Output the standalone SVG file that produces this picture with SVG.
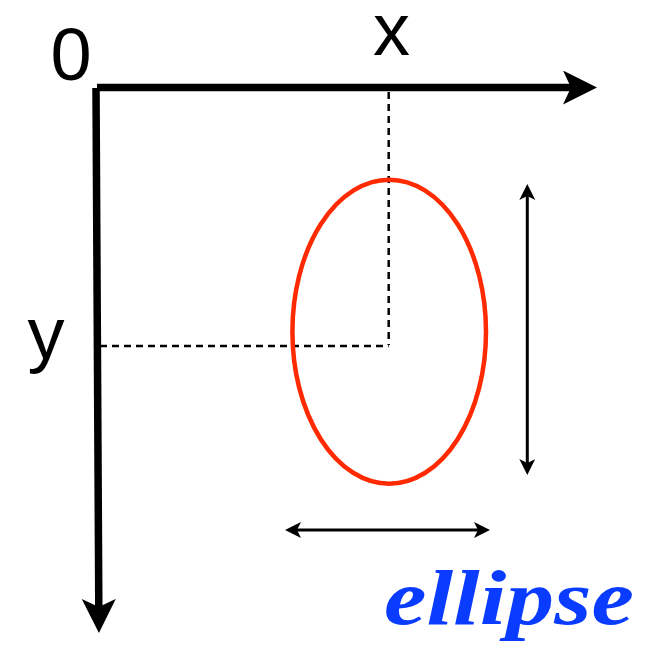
<svg xmlns="http://www.w3.org/2000/svg" width="660" height="648" viewBox="0 0 660 648">
  <style>
    .axis { stroke: #000; stroke-width: 7.5; fill: none; }
    .dash { stroke: #000; stroke-width: 2.5; stroke-dasharray: 7 5; fill: none; }
    .dim { stroke: #000; stroke-width: 3; fill: none; }
    .lbl { font-family: "Liberation Sans", Arial, sans-serif; font-size: 74px; fill: #000; text-anchor: middle; }
    .title { font-family: "Liberation Serif", "Times New Roman", serif; font-weight: bold; font-style: italic; font-size: 78px; fill: #0a3cff; }
  </style>
  <defs>
    <marker id="bigHead" markerUnits="userSpaceOnUse" markerWidth="36" markerHeight="36" refX="8" refY="17" orient="auto" viewBox="0 0 36 36">
      <path d="M0,0 L34,17 L0,34 L8,17 z" fill="#000"/>
    </marker>
    <marker id="smallHead" markerUnits="userSpaceOnUse" markerWidth="18" markerHeight="18" refX="4" refY="8" orient="auto-start-reverse" viewBox="0 0 18 18">
      <path d="M0,0 L16,8 L0,16 L4,8 z" fill="#000"/>
    </marker>
  </defs>

  <g id="connectors">
    <line id="x-axis" class="axis" x1="97" y1="87.5" x2="571" y2="87.5" marker-end="url(#bigHead)"/>
    <line id="y-axis" class="axis" x1="96" y1="88" x2="98.8" y2="607" marker-end="url(#bigHead)"/>
    <line id="x-guide" class="dash" x1="388.7" y1="92" x2="388.7" y2="345"/>
    <line id="y-guide" class="dash" x1="100" y1="346" x2="388.7" y2="346"/>
    <line id="height-dim" class="dim" x1="527.3" y1="196" x2="527.3" y2="463" marker-start="url(#smallHead)" marker-end="url(#smallHead)"/>
    <line id="width-dim" class="dim" x1="297" y1="530" x2="478" y2="530" marker-start="url(#smallHead)" marker-end="url(#smallHead)"/>
  </g>

  <g id="origin-label"><text class="lbl" x="71" y="80">0</text></g>
  <g id="x-label"><text class="lbl" x="391.5" y="55">x</text></g>
  <g id="y-label"><text class="lbl" x="46" y="359">y</text></g>

  <g id="ellipse-shape">
    <ellipse cx="389.2" cy="331.7" rx="96.8" ry="152" fill="none" stroke="#ff2a00" stroke-width="4.5"/>
  </g>

  <g id="title">
    <text class="title" x="384" y="624" textLength="250" lengthAdjust="spacingAndGlyphs">ellipse</text>
  </g>
</svg>
